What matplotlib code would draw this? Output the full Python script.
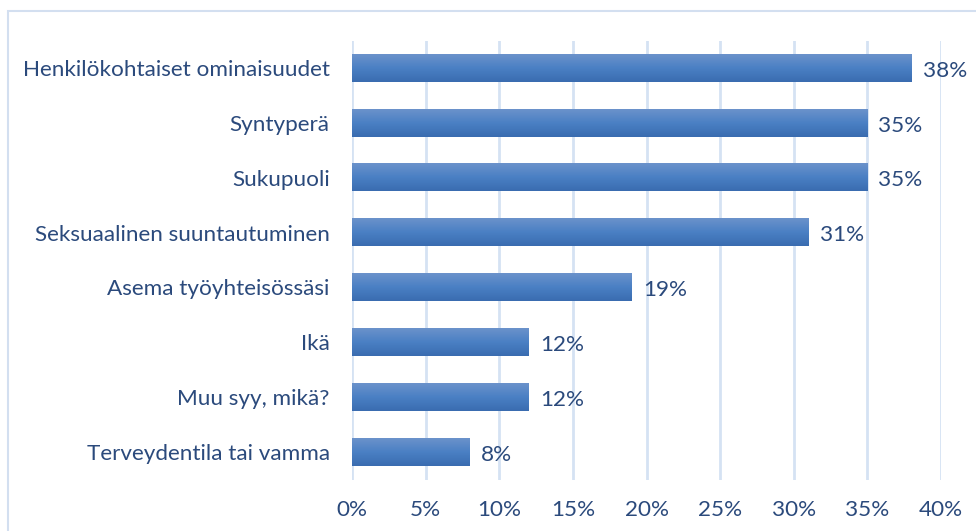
import numpy as np
import matplotlib
matplotlib.use("Agg")
import matplotlib.pyplot as plt
from matplotlib.colors import LinearSegmentedColormap
from matplotlib.patches import Rectangle

# data
categories = ['Henkilökohtaiset ominaisuudet', 'Syntyperä', 'Sukupuoli',
              'Seksuaalinen suuntautuminen', 'Asema työyhteisössäsi', 'Ikä',
              'Muu syy, mikä?', 'Terveydentila tai vamma']
values = [38, 35, 35, 31, 19, 12, 12, 8]
xticks = [0, 5, 10, 15, 20, 25, 30, 35, 40]

text_color = '#2b4a7c'
grid_color = '#d5e2f3'
fs = 16.2

plt.rcParams['font.family'] = ['Lato', 'DejaVu Sans']

fig = plt.figure(figsize=(9.76, 5.31), dpi=100)
ax = fig.add_axes([352/976, 1-479.5/531, 589/976, 439/531])

# chart frame
fig.patches.append(Rectangle((8/976, -0.1), 1.2, 1.1 - 11/531,
                             transform=fig.transFigure, fill=False,
                             edgecolor='#d3dff0', linewidth=1.5))

cmap = LinearSegmentedColormap.from_list('bar', ['#6b92cb', '#4a80c4', '#3a6cb0'])
grad = np.linspace(0, 1, 64).reshape(-1, 1)
h = 0.25
for i, v in enumerate(values):
    ax.imshow(grad, cmap=cmap, aspect='auto', extent=(0, v, i + h, i - h),
              interpolation='bilinear', zorder=2)
    ax.text(v + 0.75, i + 0.05, f'{v}%', va='center', ha='left',
            fontsize=fs, color=text_color)

ax.set_xlim(0, 40)
ax.set_ylim(len(values) - 0.5, -0.5)
ax.set_xticks(xticks)
ax.set_xticklabels([f'{t}%' for t in xticks])
ax.set_yticks(range(len(categories)))
ax.set_yticklabels(categories)
ax.tick_params(axis='both', length=0, labelsize=fs, labelcolor=text_color)
ax.tick_params(axis='x', pad=15)
ax.tick_params(axis='y', pad=16)
ax.grid(axis='x', color=grid_color, linewidth=2)
ax.set_axisbelow(True)
for s in ax.spines.values():
    s.set_visible(False)

fig.savefig('out.png', dpi=100)
